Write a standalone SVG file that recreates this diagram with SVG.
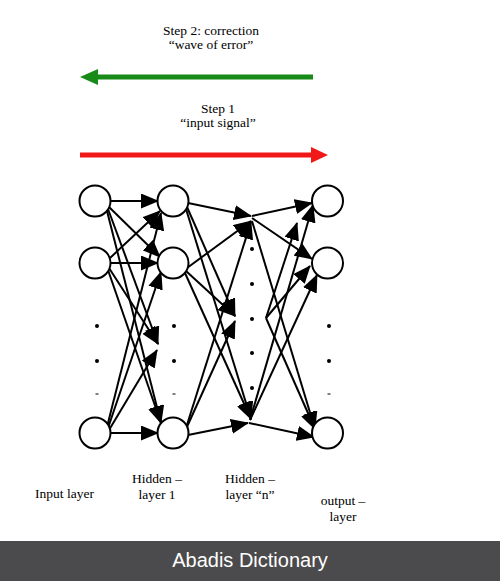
<svg xmlns="http://www.w3.org/2000/svg" width="500" height="581" viewBox="0 0 500 581">
<style>
.node{fill:#fff;stroke:#000;stroke-width:2}
#connectors line{stroke:#000;stroke-width:2;marker-end:url(#ah)}
.dot{fill:#000}
.dash{stroke:#000;stroke-width:1}
.t{font-family:"Liberation Serif","Times New Roman",serif;font-size:13.5px;fill:#000;text-anchor:middle}
.foot{font-family:"Liberation Sans",Arial,sans-serif;font-size:20px;fill:#fff;text-anchor:middle}
</style>
<defs>
<marker id="ah" markerUnits="userSpaceOnUse" markerWidth="18" markerHeight="15" refX="17" refY="7.5" orient="auto"><path d="M0,0 L18,7.5 L0,15 z" fill="#000"/></marker>
</defs>
<rect width="500" height="581" fill="#fff"/>

<g id="step2">
<text class="t" x="211" y="35">Step 2: correction</text>
<text class="t" x="211" y="49">“wave of error”</text>
<line x1="313" y1="77" x2="97" y2="77" stroke="#178a17" stroke-width="5"/>
<polygon points="80,77 98,69 98,85" fill="#178a17"/>
</g>
<g id="step1">
<text class="t" x="218" y="113">Step 1</text>
<text class="t" x="218" y="127">“input signal”</text>
<line x1="80" y1="155" x2="312" y2="155" stroke="#f01818" stroke-width="5"/>
<polygon points="328,155 311,147 311,163" fill="#f01818"/>
</g>

<g id="connectors">
<!-- input -> hidden 1 -->
<line x1="111" y1="201" x2="158" y2="201"/>
<line x1="109" y1="207" x2="160" y2="257"/>
<line x1="108" y1="209" x2="158" y2="344"/>
<line x1="107" y1="211" x2="161" y2="423"/>
<line x1="110" y1="258" x2="160" y2="211"/>
<line x1="111" y1="263" x2="158" y2="263"/>
<line x1="109" y1="268" x2="158" y2="344"/>
<line x1="108" y1="270" x2="161" y2="423"/>
<line x1="107" y1="427" x2="161" y2="213"/>
<line x1="108" y1="428" x2="161" y2="272"/>
<line x1="109" y1="430" x2="157" y2="350"/>
<line x1="111" y1="433" x2="158" y2="433"/>
<!-- hidden 1 -> hidden n -->
<line x1="188" y1="203" x2="251" y2="216"/>
<line x1="187" y1="207" x2="235" y2="316"/>
<line x1="186" y1="209" x2="251" y2="419"/>
<line x1="187" y1="268" x2="251" y2="221"/>
<line x1="186" y1="271" x2="235" y2="316"/>
<line x1="185" y1="273" x2="251" y2="419"/>
<line x1="186" y1="428" x2="251" y2="222"/>
<line x1="186" y1="429" x2="235" y2="321"/>
<line x1="188" y1="435" x2="248" y2="423"/>
<!-- hidden n -> output -->
<line x1="252" y1="216" x2="312" y2="203"/>
<line x1="252" y1="218" x2="312" y2="259"/>
<line x1="252" y1="221" x2="315" y2="429"/>
<line x1="266" y1="318" x2="297" y2="223"/>
<line x1="266" y1="318" x2="310" y2="266"/>
<line x1="266" y1="318" x2="315" y2="429"/>
<line x1="250" y1="420" x2="313" y2="205"/>
<line x1="250" y1="420" x2="317" y2="275"/>
<line x1="249" y1="423" x2="314" y2="437"/>
</g>

<g id="input-1"><circle class="node" cx="95" cy="201" r="15.5"/></g>
<g id="input-2"><circle class="node" cx="95" cy="263" r="15.5"/></g>
<g id="input-3"><circle class="node" cx="95" cy="433" r="15.5"/></g>
<g id="hidden1-1"><circle class="node" cx="173" cy="201" r="15.5"/></g>
<g id="hidden1-2"><circle class="node" cx="173" cy="263" r="15.5"/></g>
<g id="hidden1-3"><circle class="node" cx="173" cy="433" r="15.5"/></g>
<g id="output-1"><circle class="node" cx="327.5" cy="201" r="15.5"/></g>
<g id="output-2"><circle class="node" cx="327.5" cy="263" r="15.5"/></g>
<g id="output-3"><circle class="node" cx="327.5" cy="433" r="15.5"/></g>

<g id="dots">
<circle class="dot" cx="97" cy="326" r="2"/>
<circle class="dot" cx="97" cy="361" r="2"/>
<line class="dash" x1="95.5" y1="394" x2="98.5" y2="394"/>
<circle class="dot" cx="174" cy="326" r="2"/>
<circle class="dot" cx="174" cy="361" r="2"/>
<line class="dash" x1="172.5" y1="394" x2="175.5" y2="394"/>
<circle class="dot" cx="252" cy="249" r="2"/>
<circle class="dot" cx="252" cy="284" r="2"/>
<circle class="dot" cx="252" cy="319" r="2"/>
<circle class="dot" cx="252" cy="353" r="2"/>
<circle class="dot" cx="252" cy="388" r="2"/>
<circle class="dot" cx="329" cy="326" r="2"/>
<circle class="dot" cx="329" cy="361" r="2"/>
<line class="dash" x1="327.5" y1="394" x2="330.5" y2="394"/>
</g>

<g id="labels">
<text class="t" x="64.5" y="498">Input layer</text>
<text class="t" x="157" y="483">Hidden –</text>
<text class="t" x="157" y="499">layer 1</text>
<text class="t" x="250" y="483">Hidden –</text>
<text class="t" x="250" y="499">layer “n”</text>
<text class="t" x="343" y="505">output –</text>
<text class="t" x="343" y="521">layer</text>
</g>

<g id="footer">
<rect x="0" y="541" width="500" height="40" fill="#4b4a4c"/>
<text class="foot" x="250" y="567">Abadis Dictionary</text>
</g>
</svg>
